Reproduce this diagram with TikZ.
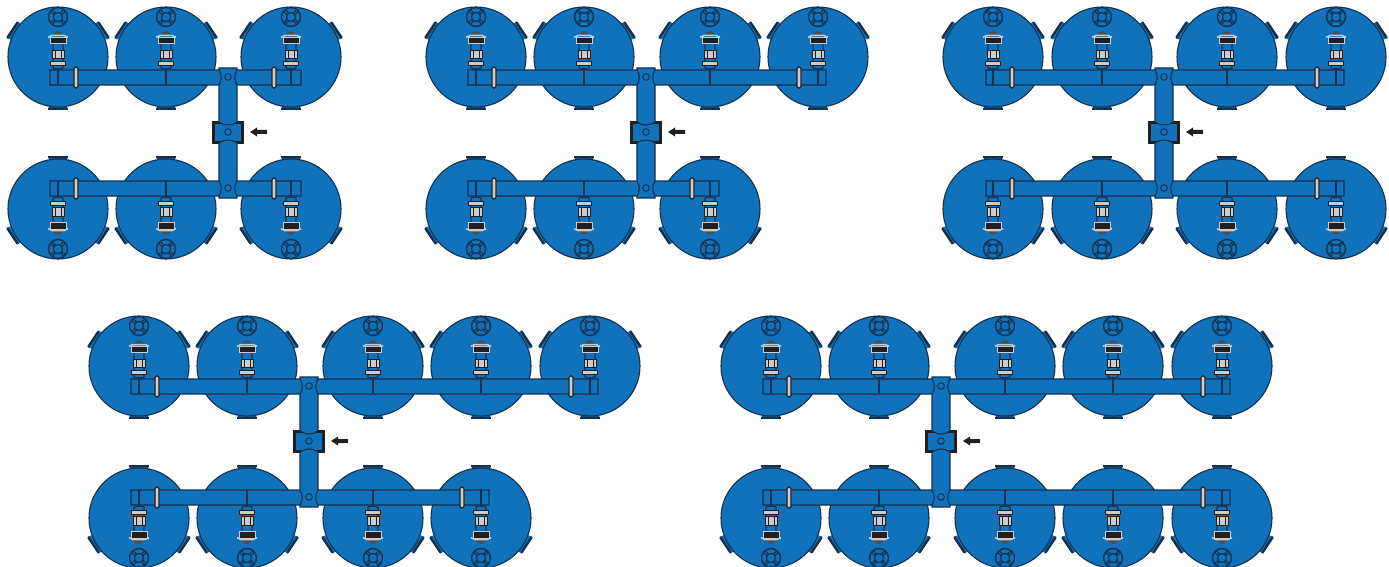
\documentclass[tikz,border=0pt]{standalone}
\usepackage{tikz}
\definecolor{tankblue}{HTML}{1072BA}
\definecolor{pipeline}{HTML}{14304D}
\definecolor{fitting}{HTML}{C9CDCF}
\definecolor{ink}{HTML}{231F20}
\tikzset{
  shell/.style={fill=tankblue, draw=pipeline, line width=1.1pt},
  part/.style={fill=fitting, draw=ink, line width=0.8pt},
  spoke/.style={pipeline, line width=1.1pt},
  tank/.pic={
    \draw[shell, line width=0.8pt] (-8,48) -- (-9,51) -- (9,51) -- (8,48) -- cycle;
    \draw[pipeline, line width=1.6pt] (-10,52) -- (10,52);
    \fill[tankblue] (-51,-18.5) -- (-40,-35) -- (-30,-30) -- (-40,-15) -- cycle;
    \fill[tankblue] (51,-18.5) -- (40,-35) -- (30,-30) -- (40,-15) -- cycle;
    \draw[pipeline, line width=2.4pt, line cap=round] (-50.5,-19.5) -- (-40.5,-34.5);
    \draw[pipeline, line width=2.4pt, line cap=round] (50.5,-19.5) -- (40.5,-34.5);
    \draw[shell] (0,0) circle (50);
    \draw[spoke, line width=1.4pt] (0,-40) circle (9.5);
    \draw[spoke] (0,-40) circle (4.5);
    \foreach \a in {45,135,225,315}{
      \draw[spoke] (0,-40) ++(\a-14:4.5) -- ++(\a:5);
      \draw[spoke] (0,-40) ++(\a+14:4.5) -- ++(\a:5);
    }
    \draw[shell] (-5,-14) -- (-5,11) to[bend right=20] (5,11) -- (5,-14) -- cycle;
    \draw[part] (-6,-7) rectangle (6,1.5);
    \draw[ink, line width=0.6pt] (-3,-7) -- (-3,1.5) (3,-7) -- (3,1.5);
    \draw[part] (-7.5,4) rectangle (7.5,8);
    \draw[fill=ink, draw=fitting, line width=0.9pt] (-8,-20) rectangle (8,-13.5);
    \fill[ink!80!white] (-7,-21) -- (-3,-24.5) -- (0,-26) -- (3,-24.5) -- (7,-21) -- cycle;
    \draw[fitting, line width=1.5pt] (-10,-19.7) -- (-6,-21.5) -- (6,-21.5) -- (10,-19.7);
    \draw[spoke] (0,11) -- (0,13);
  },
  flange/.pic={
    \draw[fill=fitting, draw=ink, line width=1.3pt, rounded corners=1.5pt] (-2,-10.5) rectangle (2,10.5);
  },
  arrowmark/.style={fill=ink, draw=none},
  bracket/.style={ink, line width=3.2pt}
}
\begin{document}
\begin{tikzpicture}[x=1pt, y=-1pt]
  \useasboundingbox (0,0) rectangle (1389,567);
  \foreach \cx/\cy/\upper/\lower/\uend/\lend in {
    228/0/{-170,-62,63}/{-170,-62,63}/73/73,
    646/0/{-170,-62,64,172}/{-170,-62,64}/180/73,
    1164/0/{-171,-62,63,172}/{-171,-62,63,172}/180/180,
    309/309/{-170,-62,64,172,281}/{-170,-62,64,172}/289/180,
    941/309/{-170,-62,64,172,281}/{-170,-62,64,172,281}/289/289}{
    \begin{scope}[shift={(\cx,\cy)}]
      \foreach \t in \upper
        \pic at (\t,57) {tank};
      \foreach \t in \lower
        \pic[yscale=-1] at (\t,209) {tank};
      % column and valve
      \draw[bracket] (-7,122.5) -- (-14.5,122.5) -- (-14.5,142.5) -- (-7,142.5);
      \draw[bracket] (7,122.5) -- (14.5,122.5) -- (14.5,142.5) -- (7,142.5);
      \fill[tankblue] (-13,124) rectangle (13,141);
      \draw[shell] (-9,68) -- (9,68) -- (9,122) .. controls (4,126) and (-4,126) .. (-9,122) -- cycle;
      \draw[shell] (-9,198) -- (9,198) -- (9,143) .. controls (4,139) and (-4,139) .. (-9,143) -- cycle;
      % headers
      \draw[shell] (-9,70) .. controls (-6,74) and (-6,81) .. (-9,85) -- (-178,85) -- (-178,70) -- cycle;
      \draw[shell] (9,70) .. controls (6,74) and (6,81) .. (9,85) -- (\uend,85) -- (\uend,70) -- cycle;
      \draw[shell] (-9,181) .. controls (-6,185) and (-6,192) .. (-9,196) -- (-178,196) -- (-178,181) -- cycle;
      \draw[shell] (9,181) .. controls (6,185) and (6,192) .. (9,196) -- (\lend,196) -- (\lend,181) -- cycle;
      \foreach \t in \upper
        \draw[spoke] (\t,70) -- (\t,85);
      \foreach \t in \lower
        \draw[spoke] (\t,181) -- (\t,196);
      \pic at (-152,77.5) {flange};
      \pic at (\uend-27,77.5) {flange};
      \pic at (-152,188.5) {flange};
      \pic at (\lend-27,188.5) {flange};
      \draw[spoke, line width=0.9pt] (0,77) circle (3.3) (0,188) circle (3.3) (0,132) circle (3.3);
      % flow arrow
      \fill[arrowmark] (22,132) -- (29,127.5) -- (29,130) -- (39,130) -- (39,134) -- (29,134) -- (29,136.5) -- cycle;
    \end{scope}
  }
\end{tikzpicture}
\end{document}
